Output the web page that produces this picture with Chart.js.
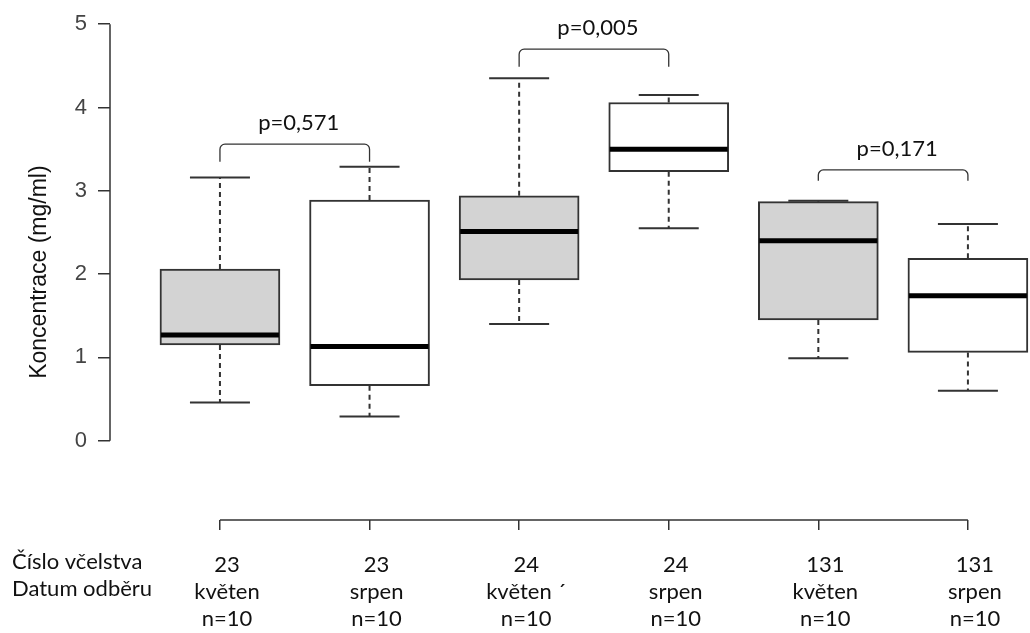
<!DOCTYPE html>
<html lang="cs">
<head>
<meta charset="utf-8">
<title>Koncentrace</title>
<script src="https://cdn.jsdelivr.net/npm/chart.js@4.4.1/dist/chart.umd.min.js"></script>
<style>
  html, body { margin: 0; padding: 0; background: #fff; }
  canvas { display: block; }
</style>
</head>
<body>
<canvas id="box-chart" width="1030" height="633"></canvas>
<script>
// skupiny vzorku: cislo vcelstva, mesic odberu, pocet vzorku
const colonies = ['23', '23', '24', '24', '131', '131'];
const months = ['květen', 'srpen', 'květen ´', 'srpen', 'květen', 'srpen'];
const counts = [10, 10, 10, 10, 10, 10];

// krabicovy graf koncentrace (mg/ml)
const whiskerLow = [0.46, 0.29, 1.40, 2.55, 0.99, 0.60];
const q1 = [1.15, 0.66, 1.93, 3.23, 1.45, 1.06];
const medians = [1.27, 1.13, 2.51, 3.50, 2.40, 1.74];
const q3 = [2.06, 2.89, 2.94, 4.06, 2.87, 2.19];
const whiskerHigh = [3.16, 3.29, 4.35, 4.15, 2.88, 2.60];

// porovnani kveten / srpen
const pairs = [[0, 1], [2, 3], [4, 5]];
const pValues = ['p=0,571', 'p=0,005', 'p=0,171'];
const bracketTop = [3.56, 4.70, 3.25];
const bracketFoot = [3.35, 4.49, 3.12];

const yTicks = [0, 1, 2, 3, 4, 5];
const rowTitles = ['Číslo včelstva', 'Datum odběru'];

const INK = '#333';
const TEXT = '#111';
const labelFont = { family: 'Lato', size: 22, lineHeight: 27 / 22 };
const TICK_LEN_X = 10;
const TICK_PAD_X = 21;

const boxParts = {
  id: 'boxParts',
  beforeDatasetsDraw(chart) {
    const { ctx, scales: { x, y } } = chart;
    const bars = chart.getDatasetMeta(0).data;
    ctx.save();
    ctx.strokeStyle = INK;
    ctx.lineWidth = 2;
    whiskerLow.forEach((lo, i) => {
      const cx = x.getPixelForValue(i + 1);
      const half = bars[i].width / 4;
      ctx.setLineDash([5, 4]);
      ctx.beginPath();
      ctx.moveTo(cx, y.getPixelForValue(q3[i]));
      ctx.lineTo(cx, y.getPixelForValue(whiskerHigh[i]));
      ctx.moveTo(cx, y.getPixelForValue(q1[i]));
      ctx.lineTo(cx, y.getPixelForValue(lo));
      ctx.stroke();
      ctx.setLineDash([]);
      ctx.beginPath();
      const yh = y.getPixelForValue(whiskerHigh[i]);
      const yl = y.getPixelForValue(lo);
      ctx.moveTo(cx - half, yh); ctx.lineTo(cx + half, yh);
      ctx.moveTo(cx - half, yl); ctx.lineTo(cx + half, yl);
      ctx.stroke();
    });
    ctx.restore();
  },
  afterDatasetsDraw(chart) {
    const { ctx, scales: { x, y } } = chart;
    const bars = chart.getDatasetMeta(0).data;
    ctx.save();
    ctx.strokeStyle = '#000';
    ctx.lineWidth = 5;
    medians.forEach((m, i) => {
      const cx = x.getPixelForValue(i + 1);
      const half = bars[i].width / 2;
      const my = y.getPixelForValue(m);
      ctx.beginPath();
      ctx.moveTo(cx - half + 1, my);
      ctx.lineTo(cx + half - 1, my);
      ctx.stroke();
    });
    ctx.restore();
  },
  afterDraw(chart) {
    const { ctx, scales: { x, y }, chartArea } = chart;
    ctx.save();
    ctx.strokeStyle = INK;
    ctx.lineWidth = 1.5;

    // osy jen v rozsahu znacek
    ctx.beginPath();
    ctx.moveTo(chartArea.left, y.getPixelForValue(yTicks[0]));
    ctx.lineTo(chartArea.left, y.getPixelForValue(yTicks[yTicks.length - 1]));
    ctx.moveTo(x.getPixelForValue(1), x.top);
    ctx.lineTo(x.getPixelForValue(colonies.length), x.top);
    ctx.stroke();

    // zavorky s p-hodnotami
    ctx.lineWidth = 1.3;
    ctx.fillStyle = TEXT;
    ctx.font = `${labelFont.size}px ${labelFont.family}`;
    ctx.textAlign = 'center';
    ctx.textBaseline = 'middle';
    pairs.forEach(([a, b], k) => {
      const x1 = x.getPixelForValue(a + 1);
      const x2 = x.getPixelForValue(b + 1);
      const top = y.getPixelForValue(bracketTop[k]);
      const foot = y.getPixelForValue(bracketFoot[k]);
      const r = 5;
      ctx.beginPath();
      ctx.moveTo(x1, foot);
      ctx.arcTo(x1, top, x1 + r, top, r);
      ctx.arcTo(x2, top, x2, top + r, r);
      ctx.lineTo(x2, foot);
      ctx.stroke();
      ctx.fillText(pValues[k], (x1 + x2) / 2 + 4, top - 21);
    });

    // popisky radku pod osou x
    ctx.textAlign = 'left';
    ctx.textBaseline = 'top';
    const rowTop = x.top + TICK_LEN_X + TICK_PAD_X;
    rowTitles.forEach((t, i) => {
      ctx.fillText(t, 12, rowTop + i * labelFont.size * labelFont.lineHeight);
    });
    ctx.restore();
  }
};

new Chart(document.getElementById('box-chart'), {
  type: 'bar',
  data: {
    datasets: [{
      data: q1.map((lo, i) => ({ x: i + 1, y: [lo, q3[i]] })),
      backgroundColor: q1.map((_, i) => (i % 2 === 0 ? '#d3d3d3' : '#ffffff')),
      borderColor: INK,
      borderWidth: 2,
      borderSkipped: false,
      barThickness: 120
    }]
  },
  options: {
    responsive: false,
    devicePixelRatio: 1,
    animation: false,
    layout: { padding: { top: 20, right: 0, bottom: 0, left: 0 } },
    plugins: { legend: { display: false }, tooltip: { enabled: false } },
    scales: {
      x: {
        type: 'linear',
        offset: false,
        min: 0.265,
        max: 6.415,
        afterBuildTicks(scale) {
          scale.ticks = colonies.map((_, i) => ({ value: i + 1 }));
        },
        afterFit(scale) { scale.height = 113; },
        border: { display: false },
        grid: {
          offset: false,
          drawOnChartArea: false,
          tickLength: TICK_LEN_X,
          color: INK,
          lineWidth: 1.5
        },
        ticks: {
          autoSkip: false,
          maxRotation: 0,
          padding: TICK_PAD_X,
          labelOffset: 7,
          color: TEXT,
          font: labelFont,
          callback: (v) => {
            const i = Math.round(v) - 1;
            return [colonies[i], months[i], 'n=' + counts[i]];
          }
        }
      },
      y: {
        min: -0.952,
        max: 5,
        afterBuildTicks(scale) {
          scale.ticks = yTicks.map(v => ({ value: v }));
        },
        afterFit(scale) { scale.width = 110; },
        border: { display: false },
        grid: {
          drawOnChartArea: false,
          tickLength: 12,
          color: INK,
          lineWidth: 1.5
        },
        ticks: {
          padding: 11,
          color: '#444',
          font: { family: 'Liberation Sans', size: 22 }
        },
        title: {
          display: true,
          text: 'Koncentrace (mg/ml)',
          color: TEXT,
          font: { family: 'Liberation Sans', size: 23 },
          padding: { top: 26, bottom: 0 }
        }
      }
    }
  },
  plugins: [boxParts]
});
</script>
</body>
</html>
